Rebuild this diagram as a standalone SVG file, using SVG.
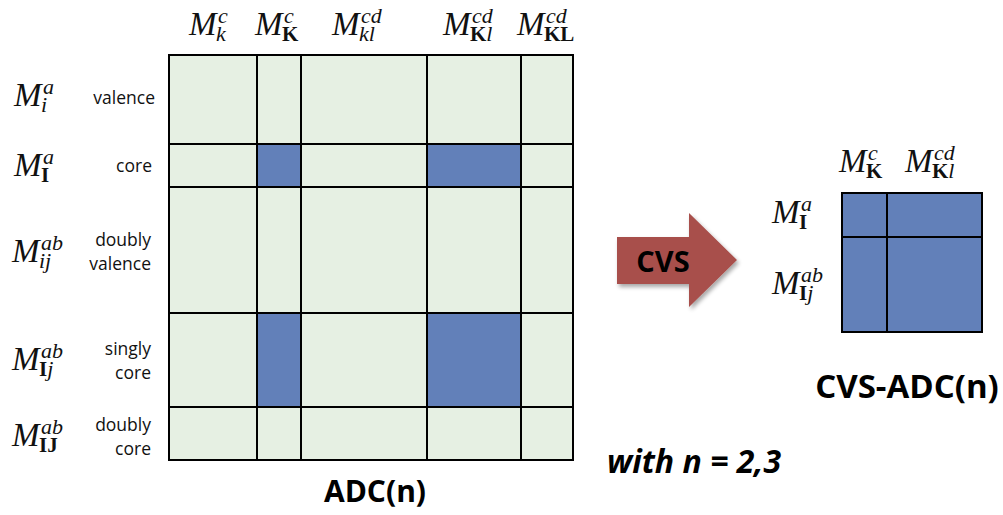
<svg xmlns="http://www.w3.org/2000/svg" width="1003" height="515" viewBox="0 0 1003 515">
  <style>
    .m { font-family: "Liberation Serif", "DejaVu Serif", serif; font-style: italic; font-weight: normal; font-size: 33px; fill: #111; }
    .sup, .subi { font-style: italic; font-weight: normal; font-size: 22px; }
    .subb { font-style: normal; font-weight: bold; font-size: 21px; }
    .lbl { font-family: "Open Sans", "Liberation Sans", sans-serif; font-size: 17.5px; fill: #111; text-anchor: end; }
    .title { font-family: "Open Sans", "Liberation Sans", sans-serif; font-weight: bold; font-size: 30px; fill: #000; text-anchor: middle; }
    .pale { fill: #E6F0E3; }
    .blue { fill: #6280B9; }
    .grid { fill: none; stroke: #000; stroke-width: 2; }
  </style>
  <defs>
    <filter id="shadow" x="-10%" y="-10%" width="130%" height="130%">
      <feGaussianBlur in="SourceAlpha" stdDeviation="2"/>
      <feOffset dx="2" dy="3" result="b"/>
      <feComponentTransfer><feFuncA type="linear" slope="0.35"/></feComponentTransfer>
      <feMerge><feMergeNode/><feMergeNode in="SourceGraphic"/></feMerge>
    </filter>
  </defs>

  <rect width="1003" height="515" fill="#fff"/>

  <!-- ADC(n) matrix -->
  <g id="adc-matrix">
    <rect class="pale" x="169" y="55" width="404" height="405"/>
    <rect class="blue" x="257" y="144" width="44" height="43"/>
    <rect class="blue" x="427" y="144" width="94" height="43"/>
    <rect class="blue" x="257" y="313" width="44" height="94"/>
    <rect class="blue" x="427" y="313" width="94" height="94"/>
    <rect class="grid" x="169" y="55" width="404" height="405"/>
    <path class="grid" d="M257 55V460M301 55V460M427 55V460M521 55V460M169 144H573M169 187H573M169 313H573M169 407H573"/>
  </g>

  <!-- column labels -->
  <g id="col-labels">
    <text class="m" x="189" y="35">M<tspan class="sup" x="218" dy="-12">c</tspan><tspan class="subi" x="216" dy="18">k</tspan></text>
    <text class="m" x="255" y="35">M<tspan class="sup" x="284" dy="-12">c</tspan><tspan class="subb" x="282" dy="18">K</tspan></text>
    <text class="m" x="332" y="35">M<tspan class="sup" x="361" dy="-12">cd</tspan><tspan class="subi" x="359" dy="18">kl</tspan></text>
    <text class="m" x="443" y="35">M<tspan class="sup" x="472" dy="-12">cd</tspan><tspan class="subb" x="470" dy="18">K</tspan><tspan class="subi">l</tspan></text>
    <text class="m" x="517" y="35">M<tspan class="sup" x="546" dy="-12">cd</tspan><tspan class="subb" x="544" dy="18">KL</tspan></text>
  </g>

  <!-- row labels -->
  <g id="row-labels">
    <text class="m" x="14" y="106">M<tspan class="sup" x="43" dy="-12">a</tspan><tspan class="subi" x="41" dy="18">i</tspan></text>
    <text class="m" x="14" y="176">M<tspan class="sup" x="43" dy="-12">a</tspan><tspan class="subb" x="41" dy="18">I</tspan></text>
    <text class="m" x="12" y="262">M<tspan class="sup" x="41" dy="-12">ab</tspan><tspan class="subi" x="39" dy="18">ij</tspan></text>
    <text class="m" x="12" y="370">M<tspan class="sup" x="41" dy="-12">ab</tspan><tspan class="subb" x="39" dy="18">I</tspan><tspan class="subi">j</tspan></text>
    <text class="m" x="12" y="446">M<tspan class="sup" x="41" dy="-12">ab</tspan><tspan class="subb" x="39" dy="18">IJ</tspan></text>

    <text class="lbl" x="155" y="104">valence</text>
    <text class="lbl" x="152" y="172">core</text>
    <text class="lbl" x="151" y="246">doubly</text>
    <text class="lbl" x="151" y="270">valence</text>
    <text class="lbl" x="151" y="355">singly</text>
    <text class="lbl" x="151" y="379">core</text>
    <text class="lbl" x="151" y="431">doubly</text>
    <text class="lbl" x="151" y="455">core</text>
  </g>

  <text class="title" x="375" y="502">ADC(n)</text>

  <!-- transformation arrow -->
  <g id="connectors">
    <g id="cvs-arrow" filter="url(#shadow)">
      <polygon points="617,237 689,237 689,213 737,260 689,307 689,284 617,284" fill="#A84F4B"/>
    </g>
    <text class="title" x="663" y="272" style="font-size:29px">CVS</text>
  </g>

  <!-- CVS-ADC(n) matrix -->
  <g id="cvs-matrix">
    <rect class="blue" x="842" y="193" width="140" height="139"/>
    <rect class="grid" x="842" y="193" width="140" height="139"/>
    <path class="grid" d="M887 193V332M842 237H982"/>
    <text class="m" x="839" y="172">M<tspan class="sup" x="868" dy="-12">c</tspan><tspan class="subb" x="866" dy="18">K</tspan></text>
    <text class="m" x="905" y="172">M<tspan class="sup" x="934" dy="-12">cd</tspan><tspan class="subb" x="932" dy="18">K</tspan><tspan class="subi">l</tspan></text>
    <text class="m" x="772" y="223">M<tspan class="sup" x="801" dy="-12">a</tspan><tspan class="subb" x="799" dy="18">I</tspan></text>
    <text class="m" x="772" y="294">M<tspan class="sup" x="801" dy="-12">ab</tspan><tspan class="subb" x="799" dy="18">I</tspan><tspan class="subi">j</tspan></text>
  </g>

  <text class="title" x="907" y="398" style="font-size:33px">CVS-ADC(n)</text>
  <text x="607" y="473" style="font-family:'Open Sans','Liberation Sans',sans-serif;font-weight:bold;font-style:italic;font-size:32px;fill:#000">with n = 2,3</text>
</svg>
